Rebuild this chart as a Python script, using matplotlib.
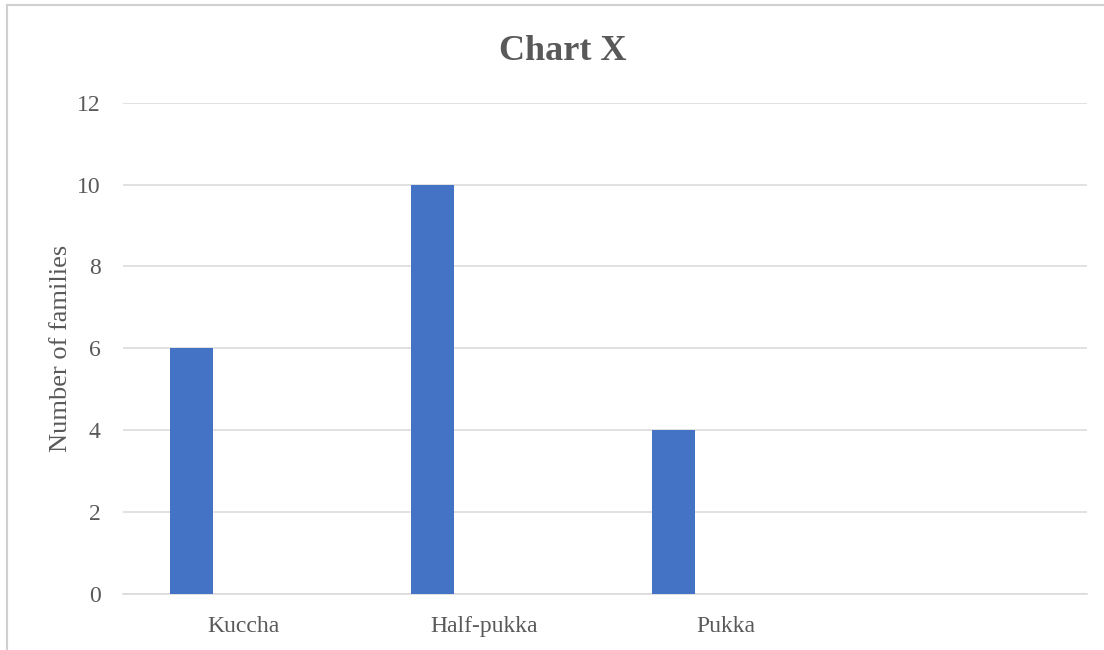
import numpy as np
from matplotlib import pyplot as plt
from matplotlib.lines import Line2D

# ------------------------------------------------------------------------------
#  Data
# ------------------------------------------------------------------------------
categories = ["Kuccha", "Half-pukka", "Pukka", ""]
families = [6, 10, 4, np.nan]
y_ticks = [0, 2, 4, 6, 8, 10, 12]

BAR_COLOR = "#4472C4"
TEXT_COLOR = "#595959"
GRID_COLOR = "#d9d9d9"
BAR_WIDTH = 0.177
BAR_OFFSET = -0.216

plt.rcParams["font.family"] = ["Liberation Serif", "DejaVu Serif"]

fig = plt.figure(figsize=(11.04, 6.5), dpi=100)
ax = fig.add_axes([0.1114, 0.0862, 0.8732, 0.7558])

x = np.arange(len(categories))
ax.bar(x + BAR_OFFSET, families, width=BAR_WIDTH, color=BAR_COLOR, zorder=3)

ax.set_xlim(-0.5, len(categories) - 0.5)
ax.set_ylim(0, 12)
ax.set_yticks(y_ticks)
ax.set_xticks(x)
ax.set_xticklabels(categories)

ax.grid(axis="y", color=GRID_COLOR, linewidth=1.1, zorder=0)
for side in ("top", "right", "left"):
    ax.spines[side].set_visible(False)
ax.spines["bottom"].set_color(GRID_COLOR)
ax.spines["bottom"].set_linewidth(1.1)
ax.tick_params(axis="both", length=0, labelsize=17, colors=TEXT_COLOR)
ax.tick_params(axis="y", pad=16)
ax.tick_params(axis="x", pad=16)

ax.set_ylabel("Number of families", fontsize=19, color=TEXT_COLOR)
ax.yaxis.set_label_coords(-0.053, 0.5)

fig.text(0.51, 0.92, "Chart X", ha="center", va="center",
         fontsize=26, fontweight="bold", color=TEXT_COLOR)

# chart area border (left and top edges)
fig.add_artist(Line2D([7 / 1104, 7 / 1104], [0, 1 - 5 / 650],
                      color="#d0d0d0", linewidth=1.5))
fig.add_artist(Line2D([7 / 1104, 1], [1 - 5 / 650, 1 - 5 / 650],
                      color="#d0d0d0", linewidth=1.5))

fig.savefig("out.png", dpi=100)
